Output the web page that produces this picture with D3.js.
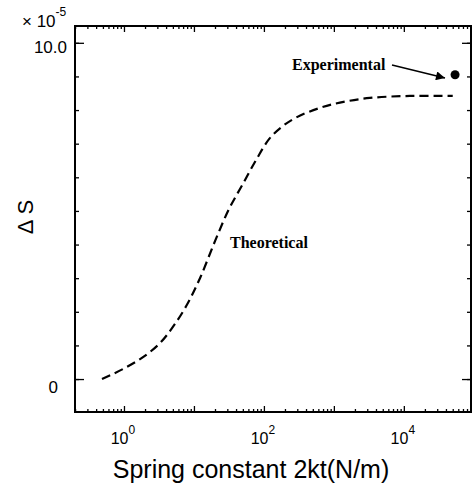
<!DOCTYPE html>
<html>
<head>
<meta charset="utf-8">
<script src="https://cdn.jsdelivr.net/npm/d3@7"></script>
<style>
  body { margin: 0; background: #fff; }
  svg { display: block; }
  .ax path, .ax line { stroke: #000; }
</style>
</head>
<body>
<div id="chart"></div>
<script>
// theoretical curve: spring constant (N/m) vs delta S (x 1e-5)
const theory_k = [0.485, 0.97, 1.87, 3.27, 5.0, 7.9, 12.2, 20, 31.6, 50, 79, 120, 180, 290, 600, 1220, 3270, 12200, 50000];
const theory_s = [0.0, 0.30, 0.65, 1.07, 1.55, 2.20, 3.0, 4.1, 5.05, 5.8, 6.55, 7.15, 7.5, 7.78, 8.05, 8.22, 8.36, 8.42, 8.42];
const exp_k = [54000];
const exp_s = [9.05];
const x_major = [1, 10, 100, 1000, 10000];
const x_labels = [1, 100, 10000];
const y_ticks = [0, 1, 2, 3, 4, 5, 6, 7, 8, 9, 10];
const y_labels = [0, 10];

const W = 474, H = 485;
const mLeft = 75, mRight = 471, mTop = 26, mBottom = 412;

const x = d3.scaleLog().domain([10 ** -0.7, 10 ** 4.96]).range([mLeft, mRight]);
const y = d3.scaleLinear().domain([-0.98, 10.5]).range([mBottom, mTop]);

// minor ticks 2..9 per decade inside the domain
let x_minor = [];
for (let e = -1; e <= 4; e++) {
    for (let m = 2; m <= 9; m++) {
        const v = m * 10 ** e;
        if (v > x.domain()[0] && v < x.domain()[1]) x_minor.push(v);
    }
}

const svg = d3.select("#chart").append("svg")
    .attr("width", W)
    .attr("height", H);

// axes, all ticks pointing inward
function addAxis(gen, tr) {
    svg.append("g").attr("class", "ax")
        .attr("transform", tr)
        .call(gen)
        .call(g => g.select(".domain").remove())
        .selectAll("line").attr("stroke-width", 1.3);
}
addAxis(d3.axisBottom(x).tickValues(x_minor).tickSize(-3).tickFormat(""), `translate(0,${mBottom})`);
addAxis(d3.axisBottom(x).tickValues(x_major).tickSize(-6).tickFormat(""), `translate(0,${mBottom})`);
addAxis(d3.axisTop(x).tickValues(x_minor).tickSize(-3).tickFormat(""), `translate(0,${mTop})`);
addAxis(d3.axisTop(x).tickValues(x_major).tickSize(-6).tickFormat(""), `translate(0,${mTop})`);
addAxis(d3.axisLeft(y).tickValues(y_ticks).tickSize(-4).tickFormat(""), `translate(${mLeft},0)`);
addAxis(d3.axisLeft(y).tickValues(y_labels).tickSize(-9).tickFormat(""), `translate(${mLeft},0)`);
addAxis(d3.axisRight(y).tickValues(y_ticks).tickSize(-4).tickFormat(""), `translate(${mRight},0)`);
addAxis(d3.axisRight(y).tickValues(y_labels).tickSize(-9).tickFormat(""), `translate(${mRight},0)`);

// frame
svg.append("rect")
    .attr("x", mLeft).attr("y", mTop)
    .attr("width", mRight - mLeft).attr("height", mBottom - mTop)
    .attr("fill", "none").attr("stroke", "#000").attr("stroke-width", 2);

// x tick labels as 10^n
const xl = svg.append("g")
    .attr("font-family", "Liberation Sans, Arial, sans-serif")
    .attr("font-size", "16px");
for (const v of x_labels) {
    const t = xl.append("text")
        .attr("x", x(v) - 1).attr("y", 444)
        .attr("text-anchor", "middle");
    t.append("tspan").text("10");
    t.append("tspan").attr("font-size", "12px").attr("dy", -10).text(Math.round(Math.log10(v)));
}

// y tick labels
svg.append("g")
    .attr("font-family", "Liberation Sans, Arial, sans-serif")
    .attr("font-size", "17px")
    .selectAll("text")
    .data(y_labels)
    .join("text")
    .attr("x", d => d === 0 ? 58 : 67)
    .attr("y", d => y(d) + (d === 0 ? 14 : 10))
    .attr("text-anchor", "end")
    .text(d => d === 0 ? "0" : d3.format(".1f")(d));

// multiplier
const mult = svg.append("text")
    .attr("x", 22).attr("y", 27)
    .attr("font-family", "Liberation Sans, Arial, sans-serif")
    .attr("font-size", "17px");
mult.append("tspan").text("× 10");
mult.append("tspan").attr("font-size", "12px").attr("dy", -11).text("-5");

// axis titles
svg.append("text")
    .attr("x", 251).attr("y", 478)
    .attr("text-anchor", "middle")
    .attr("font-family", "Liberation Sans, Arial, sans-serif")
    .attr("font-size", "25px")
    .text("Spring constant 2kt(N/m)");

svg.append("text")
    .attr("transform", "translate(33,217) rotate(-90)")
    .attr("text-anchor", "middle")
    .attr("font-family", "Liberation Sans, Arial, sans-serif")
    .attr("font-size", "22px")
    .text("Δ S");

// theoretical dashed curve
const line = d3.line()
    .x((d, i) => x(theory_k[i]))
    .y(d => y(d))
    .curve(d3.curveCatmullRom.alpha(0.5));

svg.append("path")
    .datum(theory_s)
    .attr("fill", "none")
    .attr("stroke", "#000")
    .attr("stroke-width", 2.2)
    .attr("stroke-dasharray", "9,5")
    .attr("d", line);

// experimental point
svg.selectAll("circle.exp")
    .data(exp_s)
    .join("circle")
    .attr("class", "exp")
    .attr("cx", (d, i) => x(exp_k[i]))
    .attr("cy", d => y(d))
    .attr("r", 4.5)
    .attr("fill", "#000");

// annotations
svg.append("defs").append("marker")
    .attr("id", "arr")
    .attr("viewBox", "0 0 10 10")
    .attr("refX", 10).attr("refY", 5)
    .attr("markerWidth", 8).attr("markerHeight", 6)
    .attr("orient", "auto")
    .append("path").attr("d", "M0,0L10,5L0,10z").attr("fill", "#000");

svg.append("text")
    .attr("x", 292).attr("y", 70)
    .attr("font-family", "Liberation Serif, Times New Roman, serif")
    .attr("font-weight", "bold")
    .attr("font-size", "16px")
    .text("Experimental");

svg.append("line")
    .attr("x1", 392).attr("y1", 65)
    .attr("x2", 445).attr("y2", 78)
    .attr("stroke", "#000").attr("stroke-width", 1.5)
    .attr("marker-end", "url(#arr)");

svg.append("text")
    .attr("x", 230).attr("y", 248)
    .attr("font-family", "Liberation Serif, Times New Roman, serif")
    .attr("font-weight", "bold")
    .attr("font-size", "16px")
    .text("Theoretical");
</script>
</body>
</html>
